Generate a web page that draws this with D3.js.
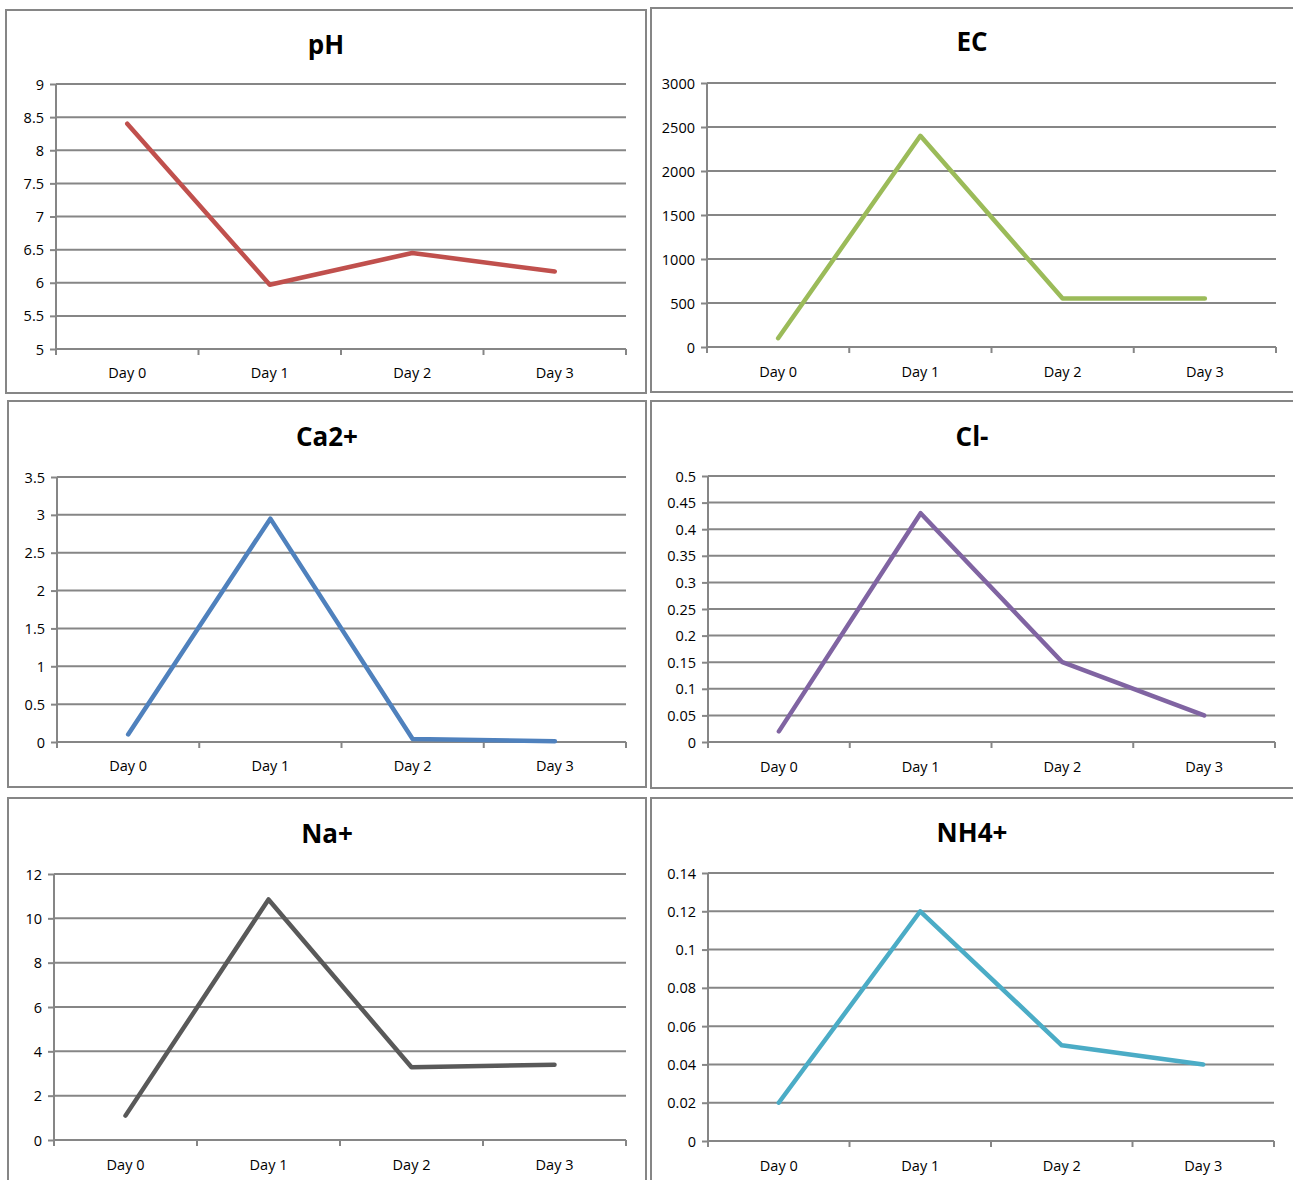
<!DOCTYPE html>
<html>
<head>
<meta charset="utf-8">
<script src="https://cdnjs.cloudflare.com/ajax/libs/d3/7.8.5/d3.min.js"></script>
<style>
  body { margin: 0; background: #fff; overflow: hidden; }
  svg { display: block; }
  text { font-family: "Open Sans", "Noto Sans", sans-serif; fill: #000; }
</style>
</head>
<body>
<div id="chart"></div>
<script>
// categories + series values
var days = ["Day 0", "Day 1", "Day 2", "Day 3"];

var phValues  = [8.4, 5.97, 6.45, 6.17];
var ecValues  = [100, 2400, 550, 550];
var caValues  = [0.1, 2.95, 0.04, 0.01];
var clValues  = [0.02, 0.43, 0.15, 0.05];
var naValues  = [1.1, 10.85, 3.28, 3.4];
var nh4Values = [0.02, 0.12, 0.05, 0.04];

// y tick labels per chart
var phTicks  = ["5", "5.5", "6", "6.5", "7", "7.5", "8", "8.5", "9"];
var ecTicks  = ["0", "500", "1000", "1500", "2000", "2500", "3000"];
var caTicks  = ["0", "0.5", "1", "1.5", "2", "2.5", "3", "3.5"];
var clTicks  = ["0", "0.05", "0.1", "0.15", "0.2", "0.25", "0.3", "0.35", "0.4", "0.45", "0.5"];
var naTicks  = ["0", "2", "4", "6", "8", "10", "12"];
var nh4Ticks = ["0", "0.02", "0.04", "0.06", "0.08", "0.1", "0.12", "0.14"];

// layout of the six panels (box = frame, plot = axes area)
var panels = [
  {title: "pH",   values: phValues,  ticks: phTicks,  color: "#c0504d",
   box: [6, 10, 646, 393],  plot: [56, 84, 626, 349],  titleY: 54,  labelY: 378},
  {title: "EC",   values: ecValues,  ticks: ecTicks,  color: "#9bbb59",
   box: [651, 8, 1300, 392], plot: [707, 83, 1276, 347], titleY: 51, labelY: 377},
  {title: "Ca2+", values: caValues,  ticks: caTicks,  color: "#4f81bd",
   box: [8, 401, 646, 787], plot: [57, 477, 626, 742], titleY: 446, labelY: 771},
  {title: "Cl-",  values: clValues,  ticks: clTicks,  color: "#8064a2",
   box: [651, 401, 1300, 788], plot: [708, 476, 1275, 742], titleY: 446, labelY: 772},
  {title: "Na+",  values: naValues,  ticks: naTicks,  color: "#595959",
   box: [8, 798, 646, 1200], plot: [54, 874, 626, 1140], titleY: 843, labelY: 1170},
  {title: "NH4+", values: nh4Values, ticks: nh4Ticks, color: "#4bacc6",
   box: [651, 798, 1300, 1200], plot: [708, 873, 1274, 1141], titleY: 842, labelY: 1171}
];

var svg = d3.select("#chart").append("svg")
    .attr("width", 1293)
    .attr("height", 1180);

var gridColor = "#868686";

panels.forEach(function (p) {
  var g = svg.append("g");

  // frame
  g.append("rect")
      .attr("x", p.box[0]).attr("y", p.box[1])
      .attr("width", p.box[2] - p.box[0]).attr("height", p.box[3] - p.box[1])
      .attr("fill", "#fff")
      .attr("stroke", gridColor)
      .attr("stroke-width", 2);

  var left = p.plot[0], top = p.plot[1], right = p.plot[2], bottom = p.plot[3];

  var tickVals = p.ticks.map(Number);
  var y = d3.scaleLinear()
      .domain([tickVals[0], tickVals[tickVals.length - 1]])
      .range([bottom, top]);

  var x = d3.scaleBand()
      .domain(days)
      .range([left, right]);

  // title
  g.append("text")
      .attr("x", (p.box[0] + Math.min(p.box[2], 1293)) / 2)
      .attr("y", p.titleY)
      .attr("text-anchor", "middle")
      .style("font-size", "26px")
      .style("font-weight", "bold")
      .text(p.title);

  // horizontal grid
  g.append("g").selectAll("line")
      .data(tickVals)
      .join("line")
      .attr("x1", left).attr("x2", right)
      .attr("y1", function (d) { return y(d); })
      .attr("y2", function (d) { return y(d); })
      .attr("stroke", gridColor)
      .attr("stroke-width", 2);

  // y axis
  var yAxis = g.append("g")
      .attr("transform", "translate(" + left + ",0)")
      .call(d3.axisLeft(y).tickValues(tickVals).tickSize(6).tickPadding(6)
        .tickFormat(function (d, i) { return p.ticks[i]; }));
  yAxis.select(".domain").attr("stroke", gridColor).attr("stroke-width", 2)
      .attr("d", "M0," + top + "V" + bottom);
  yAxis.selectAll(".tick line").attr("stroke", gridColor).attr("stroke-width", 2);
  yAxis.selectAll("text").style("font-size", "14.5px").attr("dy", "0.35em");

  // x axis, ticks between categories
  var xAxis = g.append("g")
      .attr("transform", "translate(0," + bottom + ")");
  xAxis.append("line")
      .attr("x1", left).attr("x2", right)
      .attr("stroke", gridColor).attr("stroke-width", 2);
  xAxis.selectAll(".xt")
      .data(days.concat(["end"]))
      .join("line")
      .attr("class", "xt")
      .attr("x1", function (d, i) { return i < days.length ? x(d) : right; })
      .attr("x2", function (d, i) { return i < days.length ? x(d) : right; })
      .attr("y1", 0).attr("y2", 6)
      .attr("stroke", gridColor).attr("stroke-width", 2);
  g.selectAll(".xl")
      .data(days)
      .join("text")
      .attr("class", "xl")
      .attr("x", function (d) { return x(d) + x.bandwidth() / 2; })
      .attr("y", p.labelY)
      .attr("text-anchor", "middle")
      .style("font-size", "14.5px")
      .text(function (d) { return d; });

  // series line
  var line = d3.line()
      .x(function (d, i) { return x(days[i]) + x.bandwidth() / 2; })
      .y(function (d) { return y(d); });

  g.append("path")
      .datum(p.values)
      .attr("d", line)
      .attr("fill", "none")
      .attr("stroke", p.color)
      .attr("stroke-width", 4.5)
      .attr("stroke-linejoin", "round")
      .attr("stroke-linecap", "round");
});
</script>
</body>
</html>
